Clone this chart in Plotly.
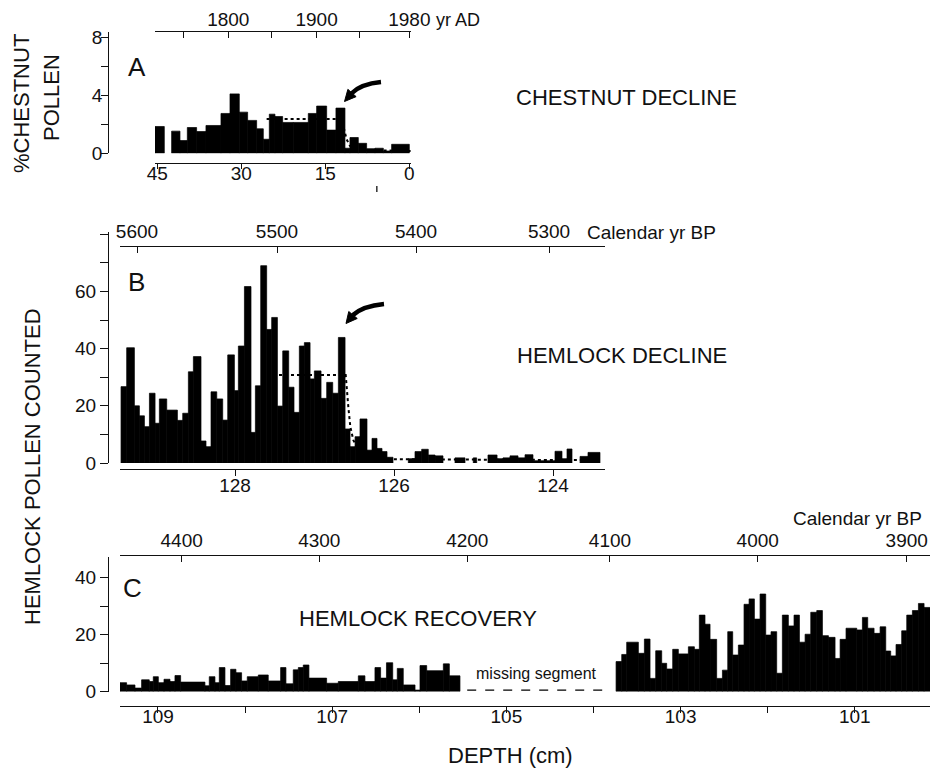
import numpy as np
import plotly.graph_objects as go

# ---------------- DATA ----------------
# Panel A: chestnut pollen (%) vs depth (cm); bar edges in cm
a_edges = [45.42, 43.75, 42.44, 40.95, 39.64, 37.98, 36.31, 33.63, 32.02, 30.36, 28.87,
           27.26, 26.07, 25.0, 23.99, 22.62, 20.71, 18.04, 16.55, 14.76, 13.10, 11.49,
           10.60, 9.11, 7.62, 6.13, 4.64, 3.16, 0.0]
a_values = [1.85, 0.0, 1.53, 0.88, 1.78, 1.5, 1.92, 2.75, 4.1, 2.84, 2.27, 1.69, 0.97,
            2.7, 2.54, 2.13, 2.13, 2.75, 3.26, 1.6, 3.12, 0.35, 1.09, 0.69, 0.32, 0.35,
            0.16, 0.62]
a_trend_depth = [25.48, 12.09, 11.79, 11.2, 10.6, 9.41, -0.4]
a_trend_value = [2.36, 2.36, 1.9, 0.97, 0.51, 0.23, 0.16]
a_depth_ticks = [45, 30, 15, 0]
a_year_tick_depths = [40.36, 32.32, 24.58, 16.55, 8.81, 0.0]
a_year_tick_labels = ["", "1800", "", "1900", "", "1980"]
a_y_ticks = [0, 2, 4, 6, 8]
a_y_labels = ["0", "", "4", "", "8"]
a_marker_depth = 5.8

# Panel B: hemlock pollen counted vs depth (cm)
b_edges = [129.434, 129.363, 129.266, 129.203, 129.140, 129.077, 129.006, 128.952, 128.859,
           128.725, 128.658, 128.587, 128.524, 128.428, 128.365, 128.302, 128.230, 128.155,
           128.092, 128.008, 127.958, 127.882, 127.799, 127.744, 127.677, 127.602, 127.539,
           127.467, 127.400, 127.325, 127.258, 127.191, 127.128, 127.056, 127.002, 126.918,
           126.847, 126.771, 126.700, 126.616, 126.553, 126.490, 126.428,
           126.340, 126.277, 126.214, 126.151, 126.088, 126.013, 125.820, 125.736, 125.652,
           125.569, 125.484, 125.384, 125.233, 125.107, 125.003, 124.960, 124.818, 124.704,
           124.629, 124.541, 124.440, 124.352, 124.252, 123.975, 123.887, 123.824, 123.761,
           123.660, 123.560, 123.409]
b_values = [26.7, 40.3, 20.0, 16.5, 12.7, 24.4, 13.9, 22.4, 18.5, 14.9, 17.4, 31.9, 37.2,
            7.7, 5.7, 24.9, 22.4, 15.0, 37.8, 25.3, 40.9, 61.7, 10.7, 27.0, 69.0, 46.7,
            50.9, 19.9, 39.2, 26.5, 17.7, 40.9, 42.1, 29.4, 32.2, 22.6, 28.2, 24.4, 43.9,
            11.9, 5.7, 9.2,
            15.4, 4.5, 8.6, 5.1, 4.0, 2.0, 0.0, 1.5, 4.0, 4.8, 2.8, 2.5, 0.0, 1.8, 0.0,
            1.8, 0.0, 2.8, 1.5, 1.8, 2.5, 1.8, 2.9, 0.8, 4.1, 1.5, 4.9, 0.0, 2.3, 3.7]
b_trend_depth = [127.447, 126.608, 126.575, 126.55, 126.512, 126.469, 126.386, 126.26, 126.009, 123.42]
b_trend_value = [30.8, 30.8, 19.7, 12.7, 8.0, 5.7, 4.0, 2.2, 1.3, 1.0]
b_depth_ticks = [128, 126, 124]
b_year_tick_depths = [129.233, 127.472, 125.723, 124.050]
b_year_tick_labels = ["5600", "5500", "5400", "5300"]
b_y_ticks = [0, 10, 20, 30, 40, 50, 60, 70, 80]
b_y_labels = ["0", "", "20", "", "40", "", "60", "", ""]

# Panel C: hemlock recovery, two segments separated by a missing core section
c1_edges = [109.437, 109.360, 109.264, 109.188, 109.100, 109.054, 108.996, 108.931, 108.862,
            108.805, 108.740, 108.461, 108.411, 108.346, 108.296, 108.231, 108.166, 108.105,
            108.040, 107.975, 107.848, 107.734, 107.592, 107.531, 107.447, 107.389, 107.332,
            107.267, 107.064, 106.930, 106.700, 106.624, 106.509, 106.444, 106.377, 106.305,
            106.253, 106.184, 106.049, 105.992, 105.915, 105.724, 105.655, 105.533]
c1_values = [3.1, 2.3, 1.2, 4.1, 3.5, 5.2, 3.1, 4.3, 3.5, 5.6, 3.3, 2.0, 5.2, 3.1, 8.4, 2.1,
             7.8, 6.6, 3.7, 5.2, 5.8, 3.7, 8.4, 2.7, 7.6, 8.4, 9.3, 4.7, 2.9, 3.5, 5.5, 3.5,
             8.4, 4.7, 10.1, 4.1, 8.1, 2.3, 0.5, 9.1, 7.3, 9.7, 5.5]
c2_edges = [103.741, 103.676, 103.619, 103.485, 103.416, 103.351, 103.286, 103.217, 103.160,
            103.091, 103.026, 102.911, 102.842, 102.785, 102.720, 102.662, 102.586, 102.520,
            102.459, 102.402, 102.337, 102.272, 102.214, 102.153, 102.088, 102.023, 101.962,
            101.897, 101.832, 101.763, 101.698, 101.636, 101.571, 101.506, 101.437, 101.372,
            101.303, 101.227, 101.169, 101.101, 100.978, 100.913, 100.852, 100.779, 100.710,
            100.645, 100.588, 100.527, 100.462, 100.404, 100.339, 100.270, 100.205, 100.129]
c2_values = [10.5, 13.0, 17.3, 13.4, 18.4, 4.6, 14.3, 9.9, 7.9, 14.8, 13.2, 15.7, 14.8, 26.8,
             23.6, 18.3, 4.6, 7.5, 21.0, 12.8, 16.3, 30.6, 32.5, 25.4, 34.2, 19.8, 21.0, 6.4,
             26.8, 23.0, 26.8, 17.3, 20.1, 27.8, 28.4, 19.6, 19.0, 11.6, 18.3, 22.2, 21.6,
             26.0, 22.2, 20.4, 22.7, 14.2, 12.5, 16.5, 21.3, 26.8, 28.4, 30.9, 29.5]
c_missing_depth = [105.45, 103.90]
c_missing_value = [0.5, 0.5]
c_depth_ticks = [109, 108, 107, 106, 105, 104, 103, 102, 101]
c_depth_labels = ["109", "", "107", "", "105", "", "103", "", "101"]
c_year_tick_depths = [108.728, 107.148, 105.449, 103.811, 102.115, 100.404]
c_year_tick_labels = ["4400", "4300", "4200", "4100", "4000", "3900"]
c_y_ticks = [0, 10, 20, 30, 40]
c_y_labels = ["0", "", "20", "", "40"]

# ---------------- LAYOUT HELPERS ----------------
# the page body keeps its default 8px margin, so the figure starts 8px in
OFF = 8
W, H = 938 - OFF, 769 - OFF
FONT = "Liberation Sans"
INK = "#111111"


def fx(px):
    return (px - OFF) / W


def fy(py):
    return 1 - (py - OFF) / H


def bars(edges, values, xa, ya):
    e = np.array(edges, dtype=float)
    centers = (e[:-1] + e[1:]) / 2
    widths = np.abs(np.diff(e))
    yv = [v if v > 0 else None for v in values]
    return go.Bar(x=centers, y=yv, width=widths, xaxis=xa, yaxis=ya,
                  marker=dict(color="black", line=dict(width=0.7, color="black")),
                  showlegend=False, hoverinfo="skip")


fig = go.Figure()
fig.add_trace(bars(a_edges, a_values, "x", "y"))
fig.add_trace(go.Scatter(x=a_trend_depth, y=a_trend_value, mode="lines", xaxis="x", yaxis="y",
                         line=dict(color="black", dash="dot", width=2), showlegend=False))
fig.add_trace(bars(b_edges, b_values, "x3", "y2"))
fig.add_trace(go.Scatter(x=b_trend_depth, y=b_trend_value, mode="lines", xaxis="x3", yaxis="y2",
                         line=dict(color="black", dash="dot", width=2), showlegend=False))
fig.add_trace(bars(c1_edges, c1_values, "x5", "y3"))
fig.add_trace(bars(c2_edges, c2_values, "x5", "y3"))
fig.add_trace(go.Scatter(x=c_missing_depth, y=c_missing_value, mode="lines", xaxis="x5", yaxis="y3",
                         line=dict(color="black", dash="dash", width=1.2), showlegend=False))
# invisible carriers for the calendar-age axes
for xa, ya, vals in (("x2", "y", a_year_tick_depths), ("x4", "y2", b_year_tick_depths),
                     ("x6", "y3", c_year_tick_depths)):
    fig.add_trace(go.Scatter(x=vals, y=[None] * len(vals), xaxis=xa, yaxis=ya, mode="markers",
                             showlegend=False, hoverinfo="skip"))

tickfont = dict(family=FONT, size=19, color=INK)
common = dict(showgrid=False, zeroline=False, showline=True, linecolor=INK, linewidth=1.3,
              tickcolor=INK, tickwidth=1.3, tickfont=tickfont, tickmode="array",
              fixedrange=True, automargin=False)

A_RANGE = [45.41, -0.30]
B_RANGE = [129.447, 123.346]
C_RANGE = [109.436, 100.114]

fig.update_layout(
    width=W, height=H, autosize=False,
    margin=dict(l=0, r=0, t=0, b=0, pad=0, autoexpand=False),
    paper_bgcolor="white", plot_bgcolor="white",
    barmode="overlay", showlegend=False,
    xaxis=dict(domain=[fx(155), fx(411)], range=A_RANGE, anchor="free", position=fy(163),
               tickvals=a_depth_ticks, ticktext=[str(v) for v in a_depth_ticks],
               ticks="outside", ticklen=5, ticklabelstandoff=-12, **common),
    xaxis2=dict(overlaying="x", side="top", range=A_RANGE, anchor="free", position=fy(31),
                tickvals=a_year_tick_depths, ticktext=a_year_tick_labels,
                ticks="inside", ticklen=6, ticklabelstandoff=-3, **common),
    yaxis=dict(domain=[fy(153.3), fy(31.7)], range=[0, 8.39], anchor="free", position=fx(108.3),
               tickvals=a_y_ticks, ticktext=a_y_labels, ticks="outside", ticklen=7,
               ticklabelstandoff=-5, **common),
    xaxis3=dict(domain=[fx(120), fx(605)], range=B_RANGE, anchor="free", position=fy(469),
                tickvals=b_depth_ticks, ticktext=[str(v) for v in b_depth_ticks],
                ticks="outside", ticklen=6, ticklabelstandoff=-7, **common),
    xaxis4=dict(overlaying="x3", side="top", range=B_RANGE, anchor="free", position=fy(246),
                tickvals=b_year_tick_depths, ticktext=b_year_tick_labels,
                ticks="inside", ticklen=6, **common),
    yaxis2=dict(domain=[fy(463), fy(232)], range=[0, 80.77], anchor="free", position=fx(108),
                tickvals=b_y_ticks, ticktext=b_y_labels, ticks="outside", ticklen=8, **common),
    xaxis5=dict(domain=[fx(120), fx(932)], range=C_RANGE, anchor="free", position=fy(706),
                tickvals=c_depth_ticks, ticktext=c_depth_labels,
                ticks="outside", ticklen=6, ticklabelstandoff=-13, **common),
    xaxis6=dict(overlaying="x5", side="top", range=C_RANGE, anchor="free", position=fy(555),
                tickvals=c_year_tick_depths, ticktext=c_year_tick_labels,
                ticks="inside", ticklen=6, **common),
    yaxis3=dict(domain=[fy(691.5), fy(556.7)], range=[0, 47.3], anchor="free", position=fx(108),
                tickvals=c_y_ticks, ticktext=c_y_labels, ticks="outside", ticklen=8, **common),
)


def label(text, px, py, size=22, angle=0):
    fig.add_annotation(text=text, x=fx(px), y=fy(py), xref="paper", yref="paper",
                       showarrow=False, xanchor="center", yanchor="middle", textangle=angle,
                       font=dict(family=FONT, size=size, color=INK))


label("yr AD", 458, 20, size=18)
label("Calendar yr BP", 651, 233, size=19)
label("Calendar yr BP", 857, 518, size=19)
label("A", 137, 67, size=26)
label("B", 136, 282, size=26)
label("C", 133, 588, size=26)
label("CHESTNUT DECLINE", 626, 97)
label("HEMLOCK DECLINE", 622, 355)
label("HEMLOCK RECOVERY", 418, 618)
label("%CHESTNUT", 22, 104, angle=-90)
label("POLLEN", 52, 98, angle=-90)
label("HEMLOCK POLLEN COUNTED", 32, 467, angle=-90)
label("DEPTH (cm)", 510, 755)
fig.add_annotation(text="missing segment", x=104.65, y=6.3, xref="x5", yref="y3",
                   showarrow=False, xanchor="center", yanchor="middle",
                   font=dict(family=FONT, size=16, color=INK))


def curved_arrow(tail, ctrl, end, tip, half=5.5):
    t = [(fx(p[0]), fy(p[1])) for p in (tail, ctrl, end)]
    fig.add_shape(type="path", xref="paper", yref="paper",
                  path=f"M {t[0][0]},{t[0][1]} Q {t[1][0]},{t[1][1]} {t[2][0]},{t[2][1]}",
                  line=dict(color="black", width=4.5))
    dx, dy = tip[0] - end[0], tip[1] - end[1]
    n = (dx * dx + dy * dy) ** 0.5
    px_, py_ = -dy / n * half, dx / n * half
    b1 = (end[0] + px_, end[1] + py_)
    b2 = (end[0] - px_, end[1] - py_)
    pts = [tip, b1, b2]
    path = "M " + " L ".join(f"{fx(p[0])},{fy(p[1])}" for p in pts) + " Z"
    fig.add_shape(type="path", xref="paper", yref="paper", path=path,
                  fillcolor="black", line=dict(color="black", width=1))


curved_arrow((381, 82), (361, 84), (352, 93), (344.5, 101.5))
curved_arrow((384, 304), (363, 306), (353, 315), (346, 323.5))

# small mark below the depth axis of panel A
fig.add_shape(type="line", xref="x", yref="paper", x0=a_marker_depth, x1=a_marker_depth,
              y0=fy(192), y1=fy(186), line=dict(color=INK, width=1.3))

fig.write_html("out.html")
